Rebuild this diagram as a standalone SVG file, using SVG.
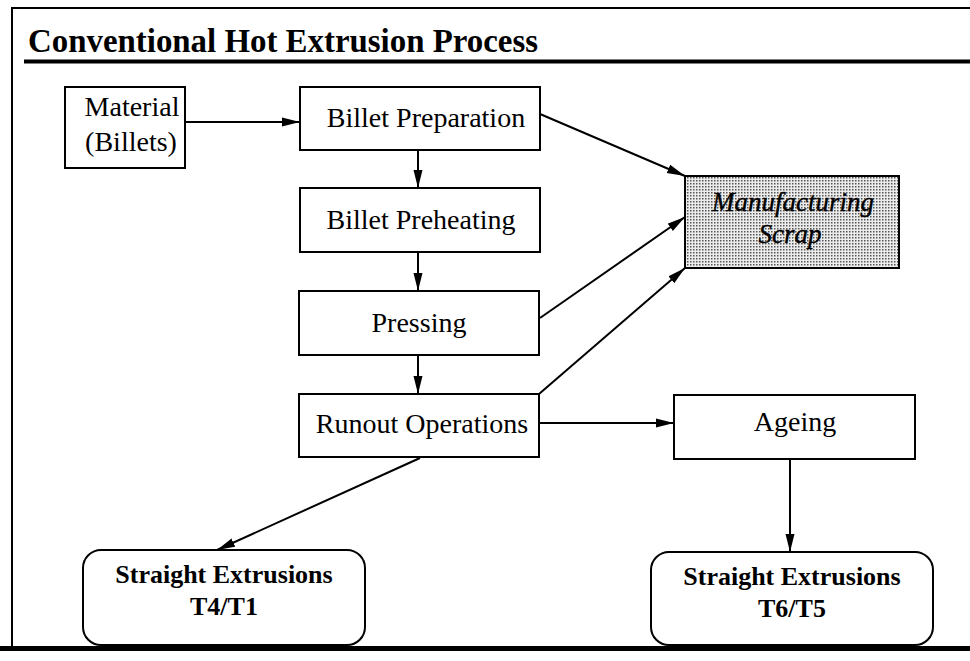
<svg xmlns="http://www.w3.org/2000/svg" width="970" height="661" viewBox="0 0 970 661">
<style>
.box{fill:#fff;stroke:#000;stroke-width:2}
.t{font-family:"Liberation Serif","Times New Roman",serif;font-size:28px;fill:#000;text-anchor:middle}
.tb{font-family:"Liberation Serif","Times New Roman",serif;font-size:26px;font-weight:bold;fill:#000;text-anchor:middle}
.ti{font-family:"Liberation Serif","Times New Roman",serif;font-size:27px;font-style:italic;fill:#000;text-anchor:middle;stroke:#000;stroke-width:0.4}
.c{stroke:#000;stroke-width:2;fill:none;marker-end:url(#ah)}
</style>
<defs>
<marker id="ah" viewBox="0 0 18 10" refX="18" refY="5" markerWidth="18" markerHeight="10" markerUnits="userSpaceOnUse" orient="auto">
<path d="M0,0.5 L18,5 L0,9.5 Z" fill="#000"/>
</marker>
<pattern id="dots" width="3" height="3" patternUnits="userSpaceOnUse">
<rect width="3" height="3" fill="#ececec"/>
<rect x="0" y="0" width="1.5" height="1.5" fill="#555"/>
</pattern>
</defs>
<rect width="970" height="661" fill="#fff"/>
<g id="frame">
<path d="M12,646 V8 H970" stroke="#000" stroke-width="2" fill="none"/>
<line x1="0" y1="648.5" x2="970" y2="648.5" stroke="#000" stroke-width="5"/>
<text x="28" y="52" font-family="Liberation Serif, Times New Roman, serif" font-size="33" font-weight="bold" textLength="510" lengthAdjust="spacingAndGlyphs">Conventional Hot Extrusion Process</text>
<line x1="24" y1="61.5" x2="970" y2="61.5" stroke="#000" stroke-width="4"/>
</g>
<g id="connectors">
<line class="c" x1="185" y1="122" x2="300" y2="122"/>
<line class="c" x1="418" y1="150" x2="418" y2="188"/>
<line class="c" x1="418" y1="252" x2="418" y2="291"/>
<line class="c" x1="418" y1="355" x2="418" y2="394"/>
<line class="c" x1="540" y1="114" x2="685" y2="176"/>
<line class="c" x1="540" y1="318" x2="685" y2="217"/>
<line class="c" x1="539" y1="394" x2="685" y2="268"/>
<line class="c" x1="539" y1="423" x2="674" y2="423"/>
<line class="c" x1="420" y1="458" x2="217" y2="550"/>
<line class="c" x1="790" y1="459" x2="790" y2="552"/>
</g>
<g id="material">
<rect class="box" x="65" y="87" width="120" height="81"/>
<text class="t" x="132" y="116">Material</text>
<text class="t" x="131" y="151">(Billets)</text>
</g>
<g id="billet-preparation">
<rect class="box" x="300" y="87" width="240" height="63"/>
<text class="t" x="426" y="127">Billet Preparation</text>
</g>
<g id="billet-preheating">
<rect class="box" x="300" y="188" width="240" height="64"/>
<text class="t" x="421" y="229">Billet Preheating</text>
</g>
<g id="pressing">
<rect class="box" x="299" y="291" width="240" height="64"/>
<text class="t" x="419" y="332">Pressing</text>
</g>
<g id="runout">
<rect class="box" x="299" y="394" width="240" height="63"/>
<text class="t" x="422" y="433">Runout Operations</text>
</g>
<g id="scrap">
<rect x="685" y="176" width="214" height="92" fill="url(#dots)" stroke="#000" stroke-width="2"/>
<text class="ti" x="793" y="211">Manufacturing</text>
<text class="ti" x="790" y="243">Scrap</text>
</g>
<g id="ageing">
<rect class="box" x="674" y="395" width="241" height="64"/>
<text class="t" x="795" y="431">Ageing</text>
</g>
<g id="t4t1">
<rect class="box" x="83" y="550" width="282" height="95" rx="18"/>
<text class="tb" x="224" y="583">Straight Extrusions</text>
<text class="tb" x="224" y="615">T4/T1</text>
</g>
<g id="t6t5">
<rect class="box" x="651" y="552" width="282" height="93" rx="18"/>
<text class="tb" x="792" y="585">Straight Extrusions</text>
<text class="tb" x="792" y="617">T6/T5</text>
</g>
</svg>
